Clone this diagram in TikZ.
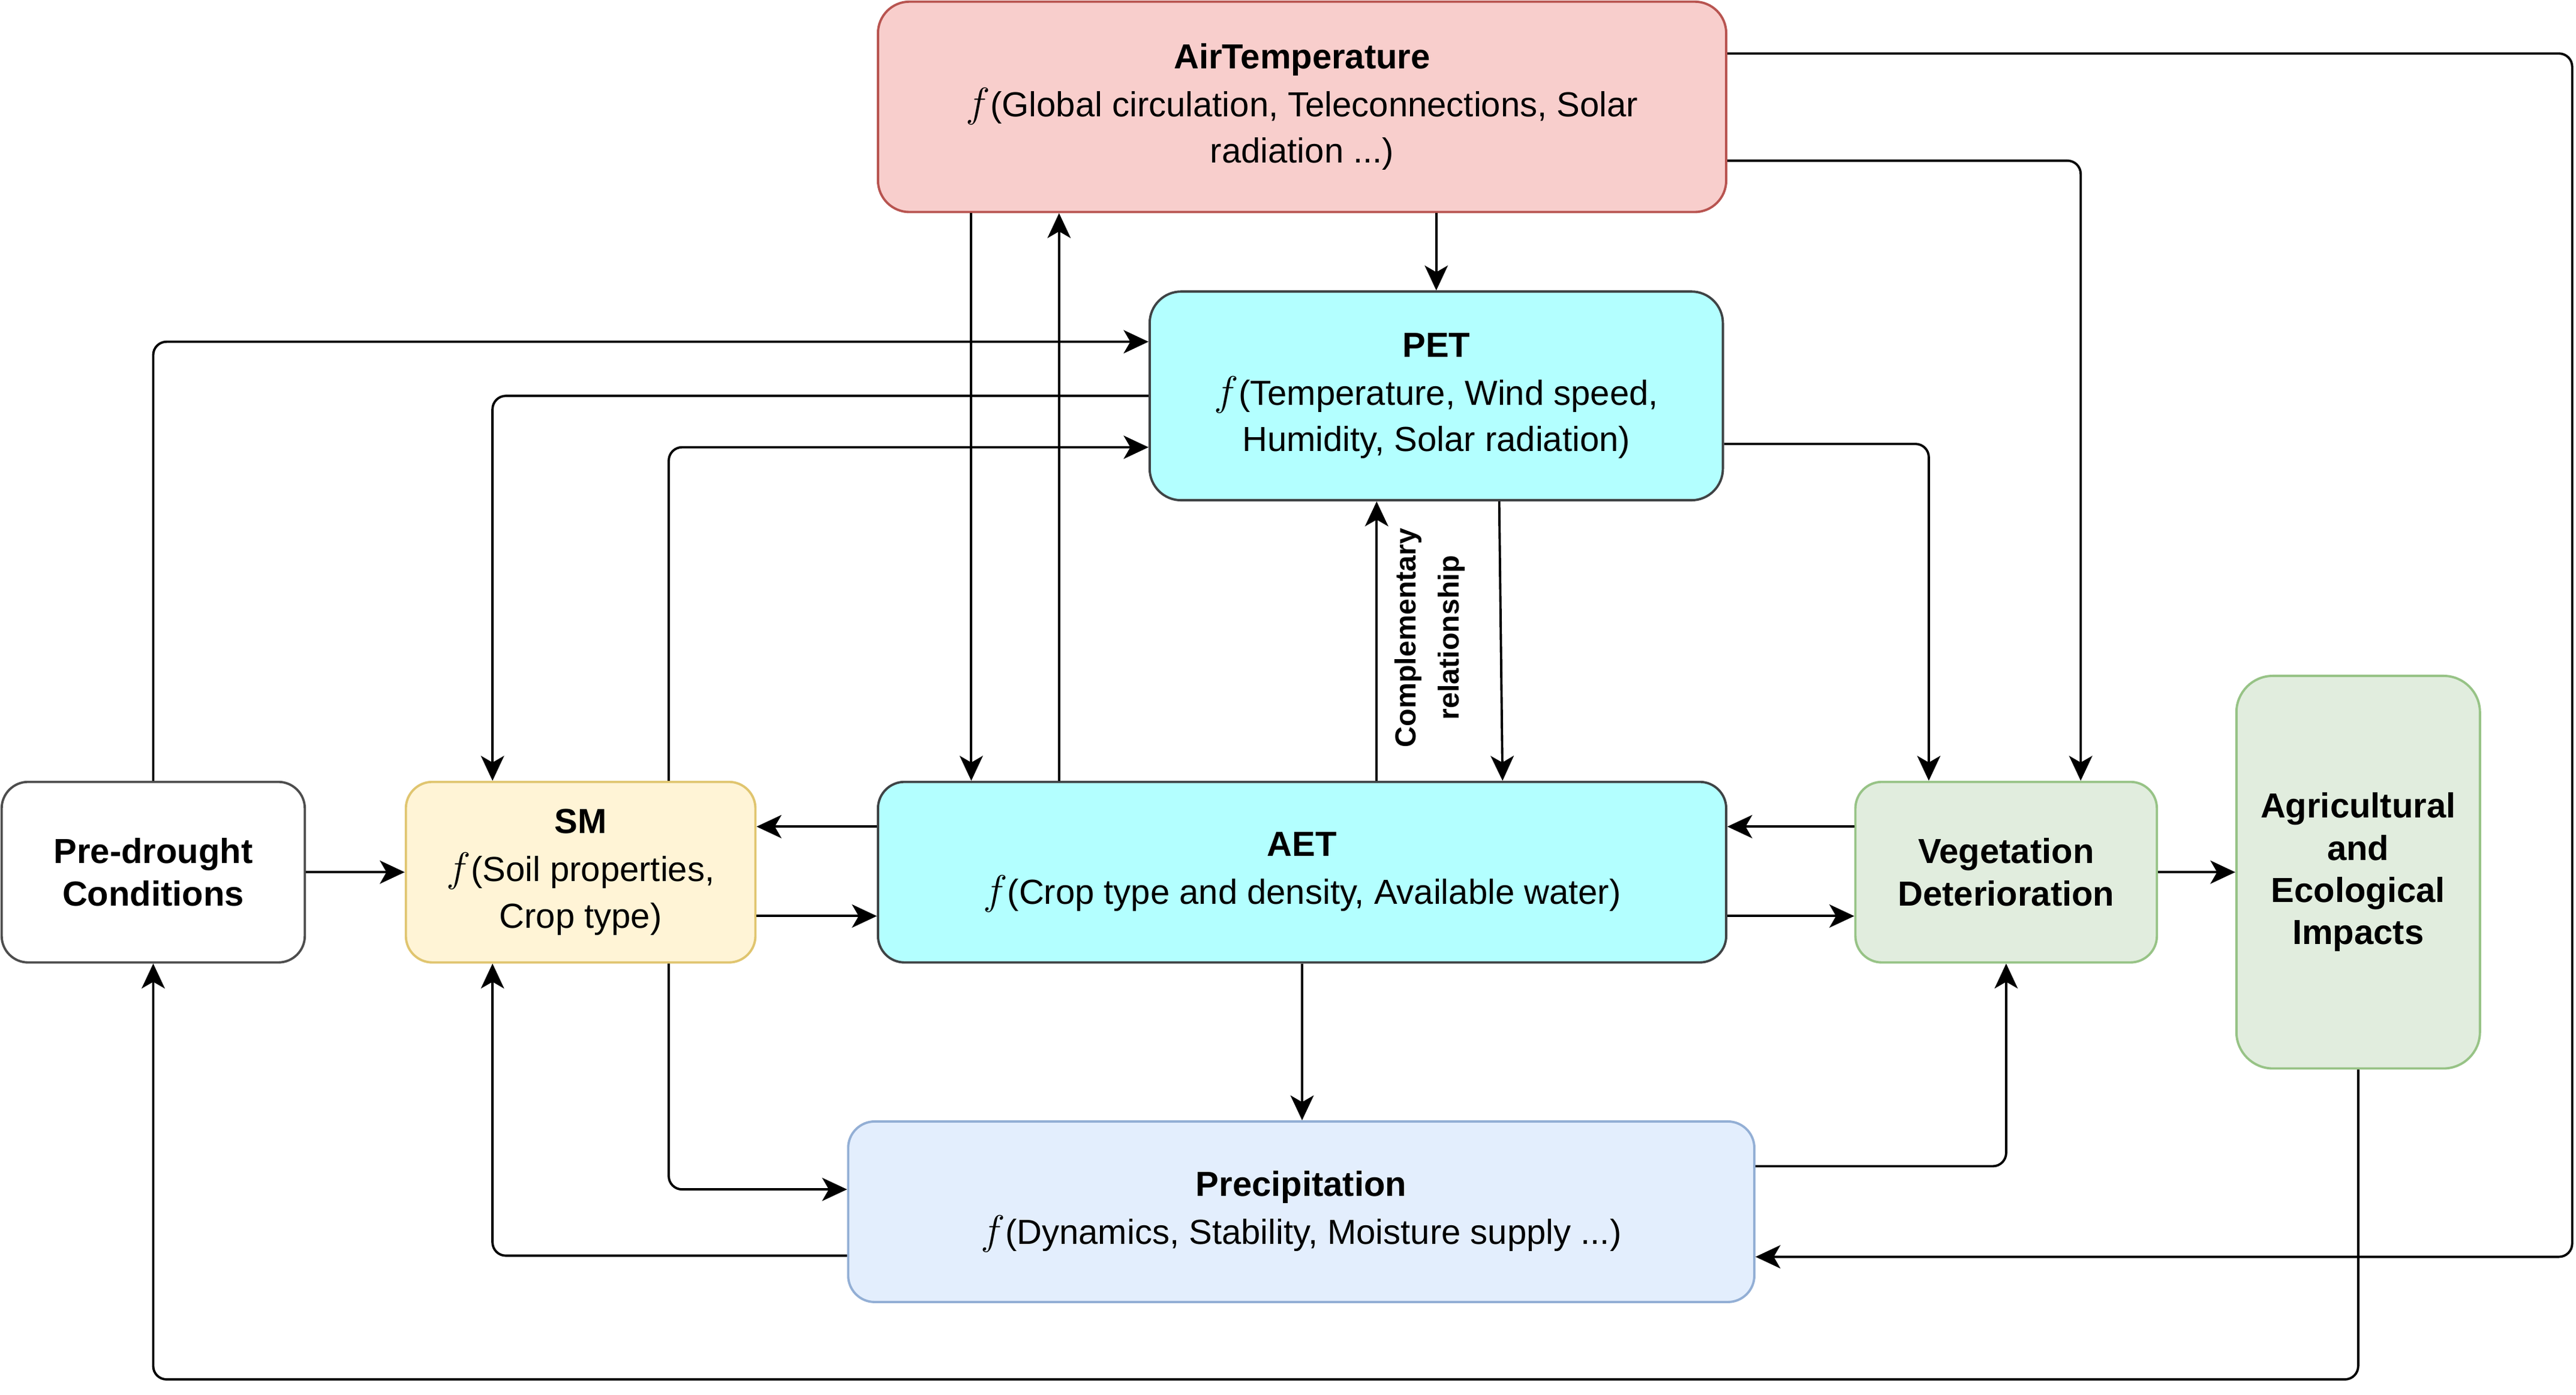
\documentclass[tikz,border=0pt]{standalone}
\usepackage{fontspec}
\setmainfont{Liberation Sans}
\usetikzlibrary{arrows.meta,calc}

\definecolor{airfill}{HTML}{F8CECC}
\definecolor{airline}{HTML}{B85450}
\definecolor{petfill}{HTML}{B3FFFF}
\definecolor{petline}{HTML}{3F4345}
\definecolor{smfill}{HTML}{FFF4D6}
\definecolor{smline}{HTML}{E0C56F}
\definecolor{preline}{HTML}{4D4D4D}
\definecolor{vegfill}{HTML}{E1EDDE}
\definecolor{vegline}{HTML}{97C386}
\definecolor{precfill}{HTML}{E3EEFD}
\definecolor{precline}{HTML}{93AFD5}

\newcommand{\fof}{{\fontsize{27}{28}\selectfont$f$}}

\begin{document}
\begin{tikzpicture}[x=1pt,y=-1pt,
    box/.style={draw, line width=1.4pt, rounded corners=16pt, align=center, inner sep=0pt,
        font=\fontsize{21}{28}\selectfont},
    boldbox/.style={box, font=\fontsize{21}{25.5}\selectfont\bfseries},
    arr/.style={line width=1.4pt, rounded corners=8pt, -{Stealth[length=15pt,width=14pt,inset=4pt]}}]

    \useasboundingbox (0,0) rectangle (1555,842);

    % Boxes
    \node[box, fill=airfill, draw=airline, minimum width=512pt, minimum height=127pt, rounded corners=19pt] (air) at (786,64.5)
        {\textbf{AirTemperature}\\[1pt] \fof(Global circulation, Teleconnections, Solar\\radiation ...)};
    \node[box, fill=petfill, draw=petline, minimum width=346pt, minimum height=126pt, rounded corners=19pt] (pet) at (867,239)
        {\textbf{PET}\\[1pt] \fof(Temperature, Wind speed,\\Humidity, Solar radiation)};
    \node[box, fill=petfill, draw=petline, minimum width=512pt, minimum height=109pt] (aet) at (786,526.5)
        {\textbf{AET}\\[1pt] \fof(Crop type and density, Available water)};
    \node[box, fill=smfill, draw=smline, minimum width=211pt, minimum height=109pt] (sm) at (350.5,526.5)
        {\textbf{SM}\\[1pt] \fof(Soil properties,\\Crop type)};
    \node[boldbox, fill=white, draw=preline, minimum width=183pt, minimum height=109pt] (pre) at (92.5,526.5)
        {Pre-drought\\Conditions};
    \node[boldbox, fill=vegfill, draw=vegline, minimum width=182pt, minimum height=109pt] (veg) at (1211,526.5)
        {Vegetation\\Deterioration};
    \node[boldbox, fill=vegfill, draw=vegline, minimum width=147pt, minimum height=237pt, rounded corners=22pt] (agri) at (1423.5,526.5)
        {Agricultural\\and\\Ecological\\Impacts};
    \node[box, fill=precfill, draw=precline, minimum width=547pt, minimum height=109pt] (prec) at (785.5,731.5)
        {\textbf{Precipitation}\\[1pt] \fof(Dynamics, Stability, Moisture supply ...)};

    % Air temperature links
    \draw[arr] ($(air.north east)+(0,32)$) -- ++(510,0) |- ($(prec.south east)+(0,-28)$);
    \draw[arr] ($(air.east)+(0,32.5)$) -| ($(veg.north)+(45,0)$);
    \draw[arr] (air.south -| pet.north) -- (pet.north);
    \draw[arr] ($(air.south west)+(57,0)$) -- ($(aet.north west)+(57,0)$);
    \draw[arr] ($(aet.north west)+(110,0)$) -- ($(air.south west)+(110,0)$);

    % PET links
    \draw[arr] (pre.north) |- ($(pet.north west)+(0,31)$);
    \draw[arr] (pet.west) -| ($(sm.north west)+(53,0)$);
    \draw[arr] ($(sm.north east)+(-53,0)$) |- ($(pet.west)+(0,31)$);
    \draw[arr] ($(pet.east)+(0,29)$) -| ($(veg.north west)+(45,0)$);
    \draw[arr] ($(aet.north)+(45,0)$) -- ($(pet.south)+(-36,0)$);
    \draw[arr] ($(pet.south)+(38,0)$) -- ($(aet.north)+(121,0)$);
    \node[rotate=90, align=center, font=\fontsize{17.5}{26}\selectfont\bfseries] (comp) at (863,385)
        {Complementary\\relationship};

    % Middle row
    \draw[arr] ($(aet.west)+(0,-27.5)$) -- ($(sm.east)+(0,-27.5)$);
    \draw[arr] ($(sm.east)+(0,26.5)$) -- ($(aet.west)+(0,26.5)$);
    \draw[arr] (pre.east) -- (sm.west);
    \draw[arr] ($(veg.west)+(0,-27.5)$) -- ($(aet.east)+(0,-27.5)$);
    \draw[arr] ($(aet.east)+(0,26.5)$) -- ($(veg.west)+(0,26.5)$);
    \draw[arr] (veg.east) -- (agri.west);

    % Precipitation links
    \draw[arr] (aet.south) -- (aet.south |- prec.north);
    \draw[arr] ($(sm.south east)+(-53,0)$) |- ($(prec.west)+(0,-13.5)$);
    \draw[arr] ($(prec.west)+(0,26.5)$) -| ($(sm.south west)+(53,0)$);
    \draw[arr] ($(prec.east)+(0,-27.5)$) -| (veg.south);

    % Feedback to pre-drought conditions
    \draw[arr] (agri.south) -- ++(0,187) -| (pre.south);

\end{tikzpicture}
\end{document}
